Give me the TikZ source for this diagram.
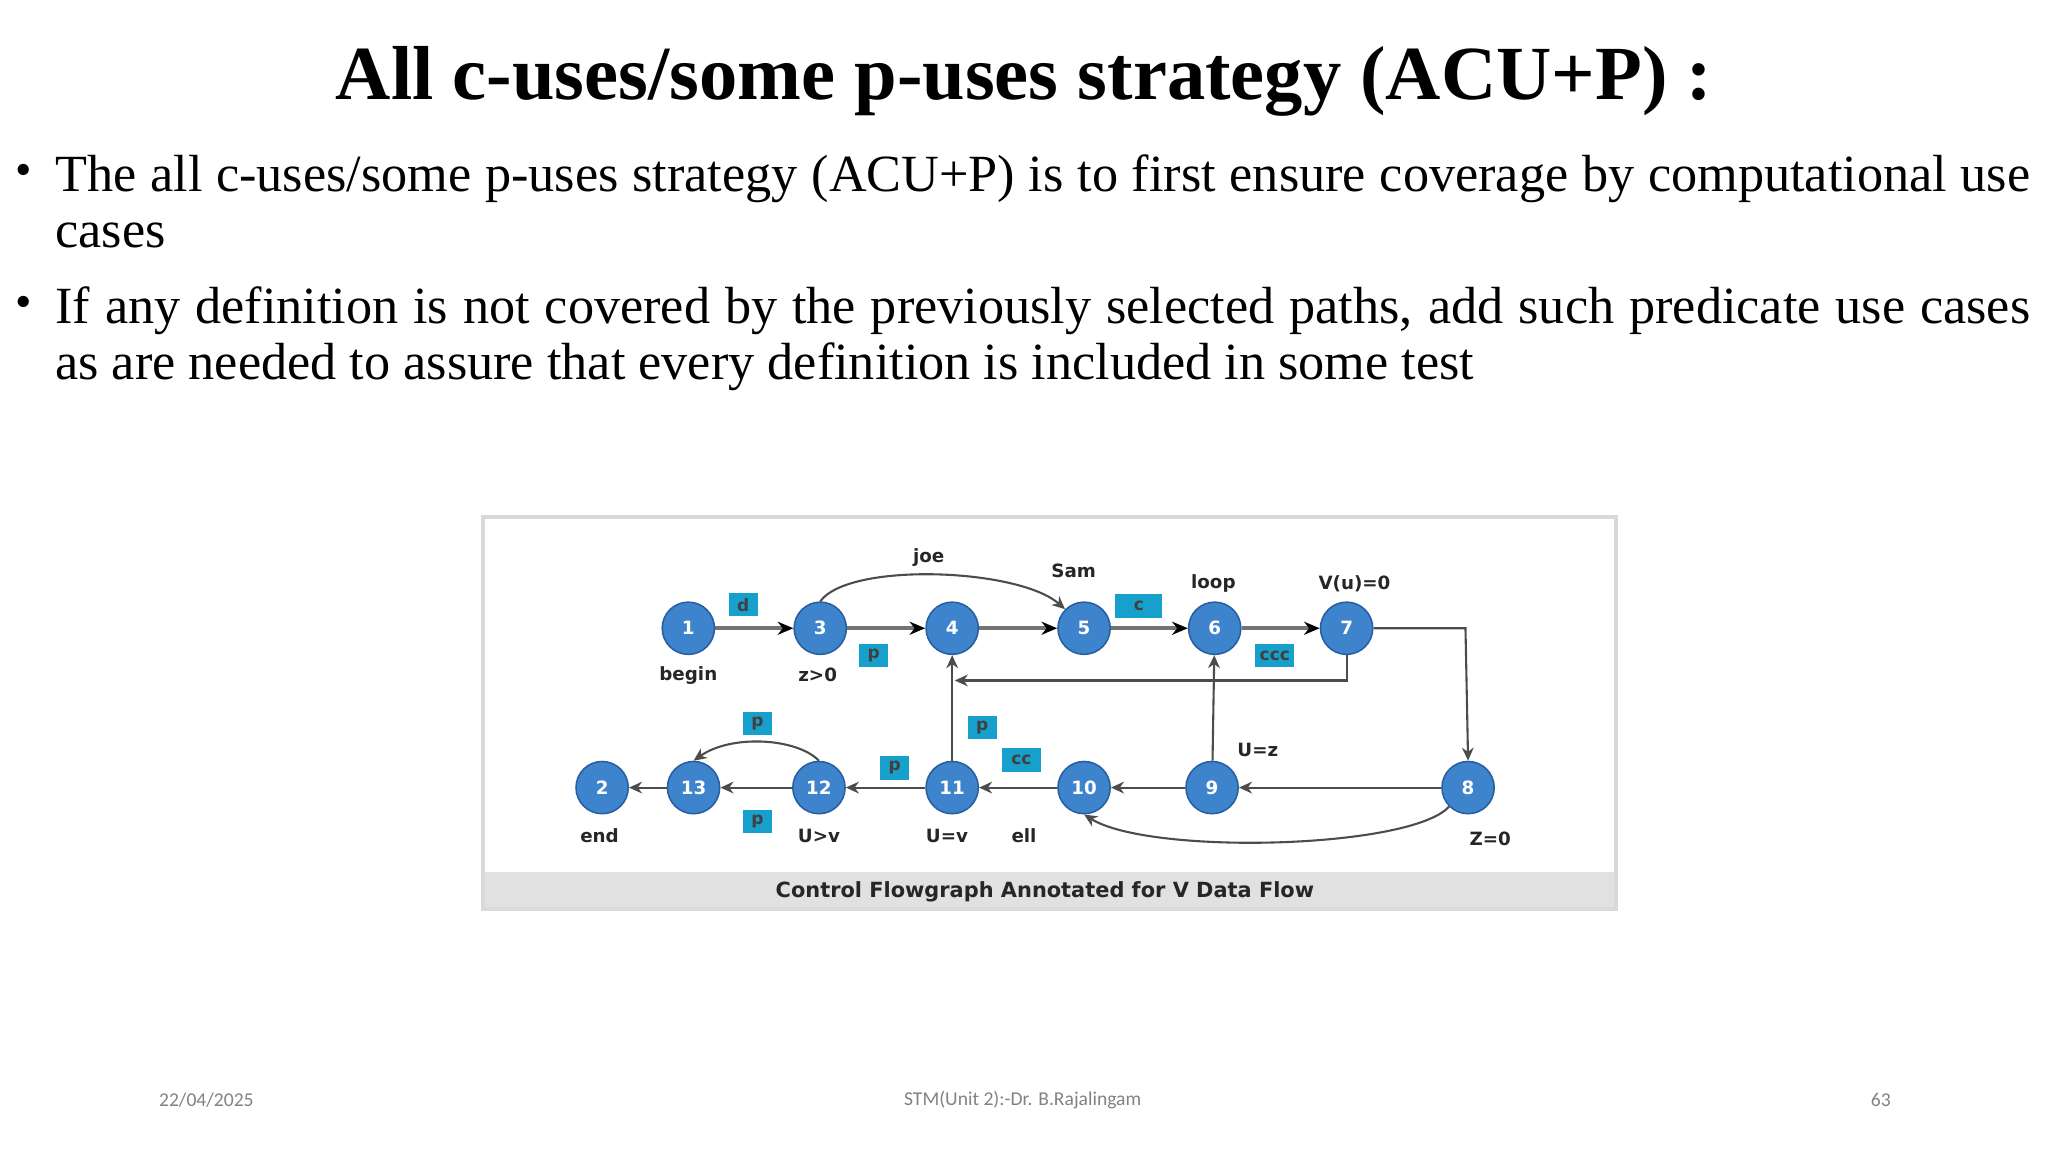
\documentclass[tikz,border=0pt]{standalone}
\usepackage{fontspec}
\setmainfont{Liberation Serif}
\newfontfamily\djfont{DejaVu Sans}
\newfontfamily\calfont{Carlito}
\usetikzlibrary{arrows.meta}
\definecolor{nblue}{RGB}{62,132,205}
\definecolor{nedge}{RGB}{40,95,160}
\definecolor{tag}{RGB}{24,160,205}
\definecolor{band}{RGB}{225,225,225}
\definecolor{foot}{RGB}{130,130,130}
\tikzset{
 vx/.style={circle,fill=nblue,draw=nedge,line width=0.6pt,minimum size=20pt,inner sep=0pt,text=white,font=\djfont\bfseries\fontsize{7}{8}\selectfont},
 lbl/.style={font=\djfont\bfseries\fontsize{7}{8}\selectfont,text=black!85},
 tagbox/.style={fill=tag,inner sep=1.5pt,minimum height=9pt,minimum width=11pt,font=\djfont\bfseries\fontsize{6.5}{7}\selectfont,text=black!75},
 ed/.style={draw=black!70,line width=0.8pt,-{Stealth[length=5pt,width=4.5pt]}},
 thk/.style={draw=black!55,line width=1.6pt,-{Stealth[length=6pt,width=5pt,color=black]}},
 ft/.style={text=foot,font=\calfont\fontsize{7.5}{9}\selectfont},
 body/.style={anchor=north west,text width=756pt,align=justify,inner sep=0pt,font=\fontsize{20}{21.5}\selectfont},
}
\begin{document}
\begin{tikzpicture}[x=0.5pt,y=-0.5pt]
\useasboundingbox (0,0) rectangle (1568,882);
\node[font=\bfseries\fontsize{29.3}{32}\selectfont] (title) at (784,62) {All c-uses/some p-uses strategy (ACU+P) :};
\node[body] (b1) at (42,118) {The all c-uses/some p-uses strategy (ACU+P) is to first ensure coverage by computational use cases};
\node[body] (b2) at (42,219) {If any definition is not covered by the previously selected paths, add such predicate use cases as are needed to assure that every definition is included in some test};
\node[font=\fontsize{18}{20}\selectfont] (d1) at (18,134) {•};
\node[font=\fontsize{18}{20}\selectfont] (d2) at (18,235) {•};
% frame
\fill[band] (370,668) rectangle (1237,696);
\draw[black!15,line width=1.5pt] (370,396) rectangle (1237,696);
\node[lbl,font=\djfont\bfseries\fontsize{8}{9}\selectfont] (cap) at (800,683) {Control Flowgraph Annotated for V Data Flow};
% nodes
\node[vx] (n1) at (527,481) {1};
\node[vx] (n3) at (628,481) {3};
\node[vx] (n4) at (729,481) {4};
\node[vx] (n5) at (830,481) {5};
\node[vx] (n6) at (930,481) {6};
\node[vx] (n7) at (1031,481) {7};
\node[vx] (n2) at (461,603) {2};
\node[vx] (n13) at (531,603) {13};
\node[vx] (n12) at (627,603) {12};
\node[vx] (n11) at (729,603) {11};
\node[vx] (n10) at (830,603) {10};
\node[vx] (n9) at (928,603) {9};
\node[vx] (n8) at (1124,603) {8};
% labels
\node[lbl] (lb) at (527,517) {begin};
\node[lbl] (lz) at (626,517) {z>0};
\node[lbl] (lj) at (711,427) {joe};
\node[lbl] (ls) at (822,437) {Sam};
\node[lbl] (ll) at (929,447) {loop};
\node[lbl] (lv) at (1037,447) {V(u)=0};
\node[lbl] (lu) at (963,574) {U=z};
\node[lbl] (le) at (459,640) {end};
\node[lbl] (lg) at (627,640) {U>v};
\node[lbl] (lq) at (725,640) {U=v};
\node[lbl] (lel) at (784,640) {ell};
\node[lbl] (lZ) at (1141,642) {Z=0};
% tags
\node[tagbox] (t1) at (569,463) {d};
\node[tagbox] (t2) at (669,502) {p};
\node[tagbox,minimum width=18pt] (t3) at (872,464) {c};
\node[tagbox,minimum width=15pt] (t4) at (976,502) {ccc};
\node[tagbox] (t5) at (580,554) {p};
\node[tagbox] (t6) at (752,557) {p};
\node[tagbox,minimum width=15pt] (t7) at (782,582) {cc};
\node[tagbox] (t8) at (685,588) {p};
\node[tagbox] (t9) at (580,629) {p};
% edges
\draw[thk] (n1) -- (n3);
\draw[thk] (n3) -- (n4);
\draw[thk] (n4) -- (n5);
\draw[thk] (n5) -- (n6);
\draw[thk] (n6) -- (n7);
\draw[ed] (n3.north) .. controls (650,430) and (780,435) .. (n5.north west);
\draw[ed] (n7.east) -- (1122,481) -- (n8.north);
\coordinate (bk) at (731,521);
\draw[ed] (n7.south) -- (1031,521) -- (bk);
\draw[ed] (n11) -- (n4);
\draw[ed] (n9) -- (n6);
\draw[ed] (n8) -- (n9);
\draw[ed] (n9) -- (n10);
\draw[ed] (n10) -- (n11);
\draw[ed] (n11) -- (n12);
\draw[ed] (n12) -- (n13);
\draw[ed] (n13) -- (n2);
\draw[ed] (n12.north) .. controls (610,565) and (560,562) .. (n13.north);
\draw[ed] (n8.south west) .. controls (1080,650) and (880,655) .. (n10.south);
% footer
\node[ft] (f1) at (158,842) {22/04/2025};
\node[ft] (f2) at (783,842) {STM(Unit 2):-Dr. B.Rajalingam};
\node[ft] (f3) at (1440,842) {63};
\end{tikzpicture}
\end{document}
